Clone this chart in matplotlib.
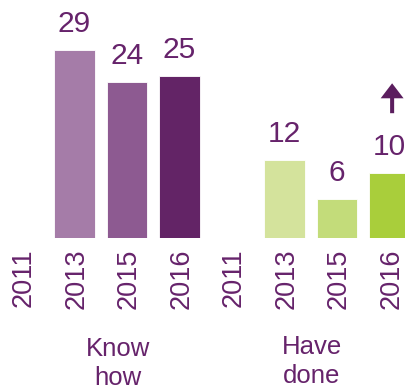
import numpy as np
import matplotlib.pyplot as plt
from matplotlib.transforms import blended_transform_factory, ScaledTranslation

plt.rcParams['font.family'] = ['Liberation Sans', 'DejaVu Sans']

years = ['2011', '2013', '2015', '2016']
groups = ['Know\nhow', 'Have\ndone']
know_how = [np.nan, 29, 24, 25]
have_done = [np.nan, 12, 6, 10]
know_colors = ['#A57CA8', '#A57CA8', '#8D5A91', '#632466']
done_colors = ['#D4E39C', '#D4E39C', '#C3DC7A', '#A9CE3B']

text_col = '#66236B'

fig = plt.figure(figsize=(4.05, 3.91), dpi=100)
ax = fig.add_axes([0, 153 / 391, 1, 238 / 391])

values = know_how + have_done
colors = know_colors + done_colors
x = np.arange(len(values))
bars = ax.bar(x, values, width=0.78, color=colors, edgecolor='#FFFFFF', linewidth=0.6)

for xi, v in zip(x, values):
    if np.isnan(v):
        continue
    ax.annotate(f'{v:g}', (xi, v), xytext=(0, 18), textcoords='offset pixels',
                ha='center', va='baseline', fontsize=21.5, color=text_col)

ax.set_xlim(-22 / 52.5, 383 / 52.5)
ax.set_ylim(0, 238 / 6.5)
ax.set_xticks(x)
ax.set_xticklabels(years * 2, rotation=90, fontsize=19.5, color=text_col)
ax.tick_params(axis='x', length=0, pad=7.5)
shift = ScaledTranslation(2 / 100, 0, fig.dpi_scale_trans)
for lab in ax.get_xticklabels():
    lab.set_transform(lab.get_transform() + shift)
ax.set_yticks([])
for s in ax.spines.values():
    s.set_visible(False)

# group captions under each block of years
trans = blended_transform_factory(ax.transData, fig.transFigure)
for gx, gy, name in zip([1.83, 5.52], [0.138, 0.144], groups):
    ax.text(gx, gy, name, transform=trans, ha='center', va='top',
            fontsize=18.5, color=text_col, linespacing=1.26)

# upward arrow above the latest "have done" value
ax.annotate('', xy=(7.05, have_done[3] + 13.8), xytext=(7.05, have_done[3] + 9.2),
            arrowprops=dict(arrowstyle='simple,head_length=1.08,head_width=1.65,tail_width=0.29',
                            mutation_scale=10, lw=0, color='#5B1E5E',
                            shrinkA=0, shrinkB=0))

fig.savefig('out.png', dpi=100)
